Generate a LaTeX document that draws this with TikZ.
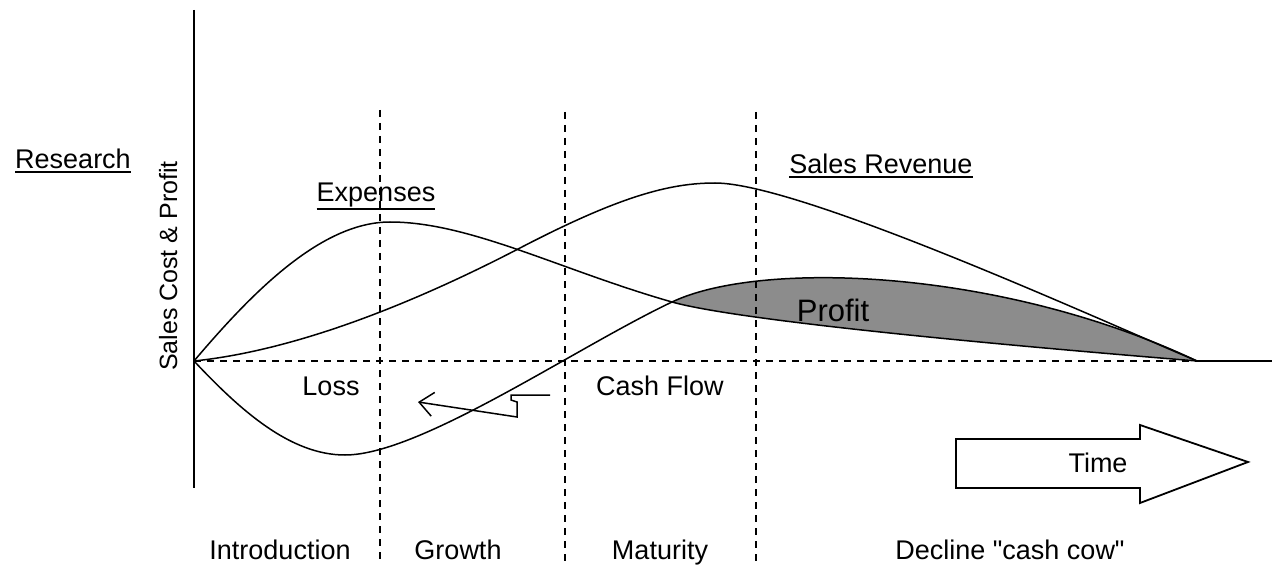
\documentclass[tikz,border=0pt]{standalone}
\usepackage{fontspec}
\setmainfont{Liberation Sans}[Ligatures=TeXOff]
\usetikzlibrary{arrows.meta}
\definecolor{profitgray}{RGB}{140,140,140}
\newcommand\myul[2][4pt]{\setbox0\hbox{#2}\rlap{\rule[-#1]{\wd0}{1.6pt}}\box0}
\begin{document}
\begin{tikzpicture}[x=1pt,y=-1pt,
  lbl/.style={font=\fontsize{27}{30}\selectfont, inner sep=0pt, anchor=base},
  curve/.style={line width=1.5pt},
  guide/.style={line width=1.5pt, dash pattern=on 7pt off 6pt},
  axis/.style={line width=2pt},
]
\useasboundingbox (0,0) rectangle (1272,572);
% key points
\coordinate (O) at (194,361);
\coordinate (X) at (672,302);
\coordinate (E) at (1197,361);
\coordinate (R) at (1272,361);
\coordinate (Ytop) at (194,10);
\coordinate (Ybot) at (194,488);
\coordinate (Emax) at (390,222);
\coordinate (Smid) at (520,248);
\coordinate (Smax) at (715,183);
\coordinate (Cmin) at (345,455);
% profit area
\fill[profitgray] (X) .. controls (760,260) and (1000,268) .. (E)
   .. controls (1000,345) and (740,321) .. (X) -- cycle;
% axes
\draw[axis] (Ytop) -- (Ybot);
\draw[guide] (O) -- (E);
\draw[curve] (E) -- (R);
% phase separators
\coordinate (d1t) at (380,110); \coordinate (d1b) at (380,565);
\coordinate (d2t) at (565,112); \coordinate (d2b) at (565,565);
\coordinate (d3t) at (756,112); \coordinate (d3b) at (756,565);
\draw[guide] (d1t) -- (d1b);
\draw[guide] (d2t) -- (d2b);
\draw[guide] (d3t) -- (d3b);
% expenses
\draw[curve] (O) .. controls (250,295) and (320,222) .. (Emax)
   .. controls (470,222) and (560,270) .. (X)
   .. controls (740,321) and (1000,345) .. (E);
% sales revenue
\draw[curve] (O) .. controls (300,350) and (420,300) .. (Smid)
   .. controls (620,196) and (670,183) .. (Smax)
   .. controls (800,183) and (1100,320) .. (E);
% cash flow
\draw[curve] (O) .. controls (240,410) and (290,455) .. (Cmin)
   .. controls (420,455) and (575,348) .. (X)
   .. controls (760,260) and (1000,268) .. (E);
% lightning arrow
\coordinate (L0) at (550,395);
\coordinate (L1) at (511,395);
\coordinate (L2) at (511,400);
\coordinate (L3) at (517,402);
\coordinate (L4) at (517,417);
\coordinate (Ltip) at (418,402);
\draw[line width=1.5pt, -{Straight Barb[length=14pt,width=24pt]}]
   (L0) -- (L1) -- (L2) -- (L3) -- (L4) -- (Ltip);
% time arrow
\draw[line width=1.8pt, fill=white] (956,439) -- (1140,439) -- (1140,425)
   -- (1248,462) -- (1140,503) -- (1140,488) -- (956,488) -- cycle;
% labels
\node[lbl] (research) at (73,169) {\myul{Research}};
\node[lbl, rotate=90, font=\fontsize{25}{28}\selectfont] (ylab) at (177,266) {Sales Cost \& Profit};
\node[lbl] (expenses) at (376,202) {\myul[8pt]{Expenses}};
\node[lbl] (sales) at (881,174) {\myul{Sales Revenue}};
\node[lbl, font=\fontsize{31}{34}\selectfont] (profit) at (833,321) {Profit};
\node[lbl] (loss) at (331,395) {Loss};
\node[lbl] (cash) at (660,395) {Cash Flow};
\node[lbl] (time) at (1098,472) {Time};
\node[lbl] (intro) at (280,559) {Introduction};
\node[lbl] (growth) at (458,559) {Growth};
\node[lbl] (mat) at (660,559) {Maturity};
\node[lbl] (dec) at (1010,559) {Decline "cash cow"};
\end{tikzpicture}
\end{document}
